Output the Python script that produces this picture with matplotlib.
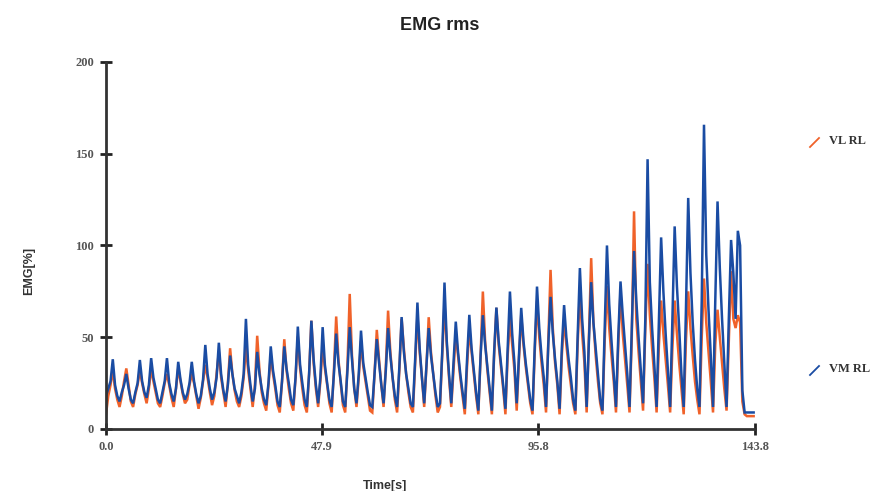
import numpy as np
import matplotlib
matplotlib.use("Agg")
import matplotlib.pyplot as plt
from matplotlib.lines import Line2D

dt = 0.5
vm_rl = [
    18, 22, 26, 38, 24, 18, 15, 20, 24, 30,
    22, 16, 14, 20, 25, 37.6, 26, 20, 17, 24,
    38.6, 28, 22, 16, 14, 20, 26, 38.6, 25, 19,
    15, 22, 36.6, 27, 20, 16, 19, 25, 36.6, 26,
    19, 14, 18, 27, 45.8, 30, 22, 16, 20, 28,
    47, 30, 21, 15, 24, 40, 30, 22, 18, 14,
    20, 30, 60, 35, 24, 15, 22, 42, 30, 22,
    16, 13, 25, 45, 32, 24, 15, 12, 26, 45,
    33, 25, 16, 13, 28, 55.8, 35, 25, 16, 12,
    30, 59, 38, 24, 14, 28, 55.5, 35, 25, 16,
    12, 30, 52, 36, 26, 15, 12, 32, 55.5, 38,
    22, 14, 30, 53.6, 36, 28, 20, 13, 12, 30,
    49, 36, 24, 14, 32, 55, 40, 28, 18, 12,
    34, 61, 42, 30, 22, 14, 12, 38, 68.9, 44,
    28, 14, 35, 55, 40, 30, 20, 12, 14, 42,
    79.8, 48, 30, 14, 36, 58.5, 42, 30, 20, 11,
    38, 62.2, 44, 32, 20, 10, 40, 62, 46, 34,
    22, 10, 42, 66.2, 48, 36, 24, 11, 44, 74.9,
    52, 36, 14, 40, 66, 48, 36, 26, 16, 10,
    45, 77.6, 55, 40, 28, 12, 46, 72, 52, 38,
    26, 11, 44, 67.5, 50, 38, 28, 16, 10, 50,
    87.7, 60, 42, 12, 48, 80, 58, 44, 30, 16,
    10, 55, 100, 68, 48, 30, 12, 50, 80.4, 62,
    46, 30, 12, 55, 97, 70, 50, 32, 14, 60,
    147, 80, 55, 35, 12, 58, 104.4, 75, 52, 32,
    12, 60, 110.4, 78, 55, 30, 12, 65, 125.9, 85,
    58, 38, 22, 12, 70, 165.8, 95, 65, 40, 12,
    70, 124, 88, 60, 36, 12, 60, 103, 85, 60,
    108, 100, 21, 9, 9, 9, 9, 9,
]
vl_rl = [
    8, 18, 24, 32, 22, 16, 12, 18, 26, 33,
    24, 15, 12, 19, 24, 32, 25, 19, 14, 22,
    33, 26, 20, 14, 12, 18, 25, 30, 24, 17,
    12, 22, 33, 26, 19, 14, 16, 24, 30, 25,
    18, 11, 17, 26, 35, 28, 20, 13, 18, 30,
    42, 28, 20, 12, 25, 44, 30, 21, 15, 12,
    18, 28, 45, 32, 22, 12, 24, 50.8, 32, 20,
    14, 10, 24, 40, 30, 22, 13, 9, 26, 48.9,
    32, 22, 14, 10, 28, 50.4, 33, 22, 13, 9,
    30, 59, 36, 22, 12, 26, 45, 33, 24, 14,
    9, 32, 61.3, 38, 25, 13, 9, 35, 73.6, 40,
    22, 12, 28, 48, 34, 26, 18, 10, 9, 30,
    54, 38, 24, 12, 34, 64.5, 42, 28, 16, 9,
    32, 60, 44, 30, 20, 12, 9, 36, 62, 42,
    28, 12, 34, 60.9, 42, 30, 18, 9, 12, 40,
    68.6, 46, 28, 12, 32, 52, 40, 28, 18, 8,
    34, 55, 42, 30, 18, 8, 40, 74.9, 48, 32,
    20, 8, 40, 66, 46, 34, 22, 8, 40, 60,
    46, 32, 10, 38, 62, 46, 34, 24, 14, 8,
    42, 70, 50, 36, 24, 9, 48, 86.7, 55, 36,
    24, 8, 40, 60, 46, 34, 24, 14, 8, 46,
    75, 52, 36, 9, 50, 93.1, 58, 40, 26, 14,
    8, 48, 78, 55, 40, 26, 9, 45, 75, 52,
    38, 24, 9, 50, 118.6, 60, 42, 26, 10, 55,
    90, 62, 44, 28, 9, 45, 70, 52, 38, 24,
    9, 44, 70, 52, 36, 22, 8, 48, 75, 55,
    40, 26, 16, 8, 50, 82, 58, 42, 26, 9,
    46, 65, 50, 36, 22, 10, 48, 86, 60, 55,
    62, 58, 15, 8, 7, 7, 7, 7,
]
x_ticks = [0.0, 47.9, 95.8, 143.8]
x_tick_labels = ["0.0", "47.9", "95.8", "143.8"]
y_ticks = [0, 50, 100, 150, 200]
series_names = ["VL RL", "VM RL"]

t_vl = np.arange(len(vl_rl)) * dt
t_vm = np.arange(len(vm_rl)) * dt

ORANGE = "#f0622a"
BLUE = "#1a4ca3"

fig = plt.figure(figsize=(8.82, 4.91), dpi=100)
ax = fig.add_axes([0.1202, 0.1263, 0.7358, 0.7475])

ax.plot(t_vl, vl_rl, color=ORANGE, lw=1.8, solid_joinstyle="miter")
ax.plot(t_vm, vm_rl, color=BLUE, lw=1.8, solid_joinstyle="miter")

ax.set_xlim(0, 143.8)
ax.set_ylim(0, 200)
ax.set_xticks(x_ticks)
ax.set_xticklabels(x_tick_labels)
ax.set_yticks(y_ticks)

for s in ["top", "right"]:
    ax.spines[s].set_visible(False)
for s in ["left", "bottom"]:
    ax.spines[s].set_color("#333333")
    ax.spines[s].set_linewidth(2)

ax.tick_params(axis="both", direction="inout", length=9, width=2, color="#222222",
               labelcolor="#555555", pad=4)
for lab in ax.get_xticklabels() + ax.get_yticklabels():
    lab.set_fontfamily("Liberation Serif")
    lab.set_fontsize(9)
    lab.set_fontweight("bold")

fig.text(0.499, 0.948, "EMG rms", ha="center", va="center",
         fontsize=13, fontweight="bold", family="Liberation Sans", color="#222222")
ax.set_xlabel("Time[s]", fontsize=9, fontweight="bold", family="Liberation Sans",
              color="#333333")
ax.xaxis.set_label_coords(0.43, -0.14)
ax.set_ylabel("EMG[%]", fontsize=9, fontweight="bold", family="Liberation Sans",
              color="#333333")
ax.yaxis.set_label_coords(-0.11, 0.43)

# legend entries at the right
W, H = 882.0, 491.0
for name, color, ytext in [(series_names[0], ORANGE, 141), (series_names[1], BLUE, 369)]:
    x0, x1 = 810 / W, 819 / W
    y0, y1 = 1 - (ytext + 6) / H, 1 - (ytext - 3) / H
    fig.add_artist(Line2D([x0, x1], [y0, y1], color=color, lw=1.3,
                          transform=fig.transFigure))
    fig.text(829 / W, 1 - ytext / H, name, ha="left", va="center",
             fontsize=9, fontweight="bold", family="Liberation Serif", color="#333333")

fig.savefig("out.png", dpi=100)
